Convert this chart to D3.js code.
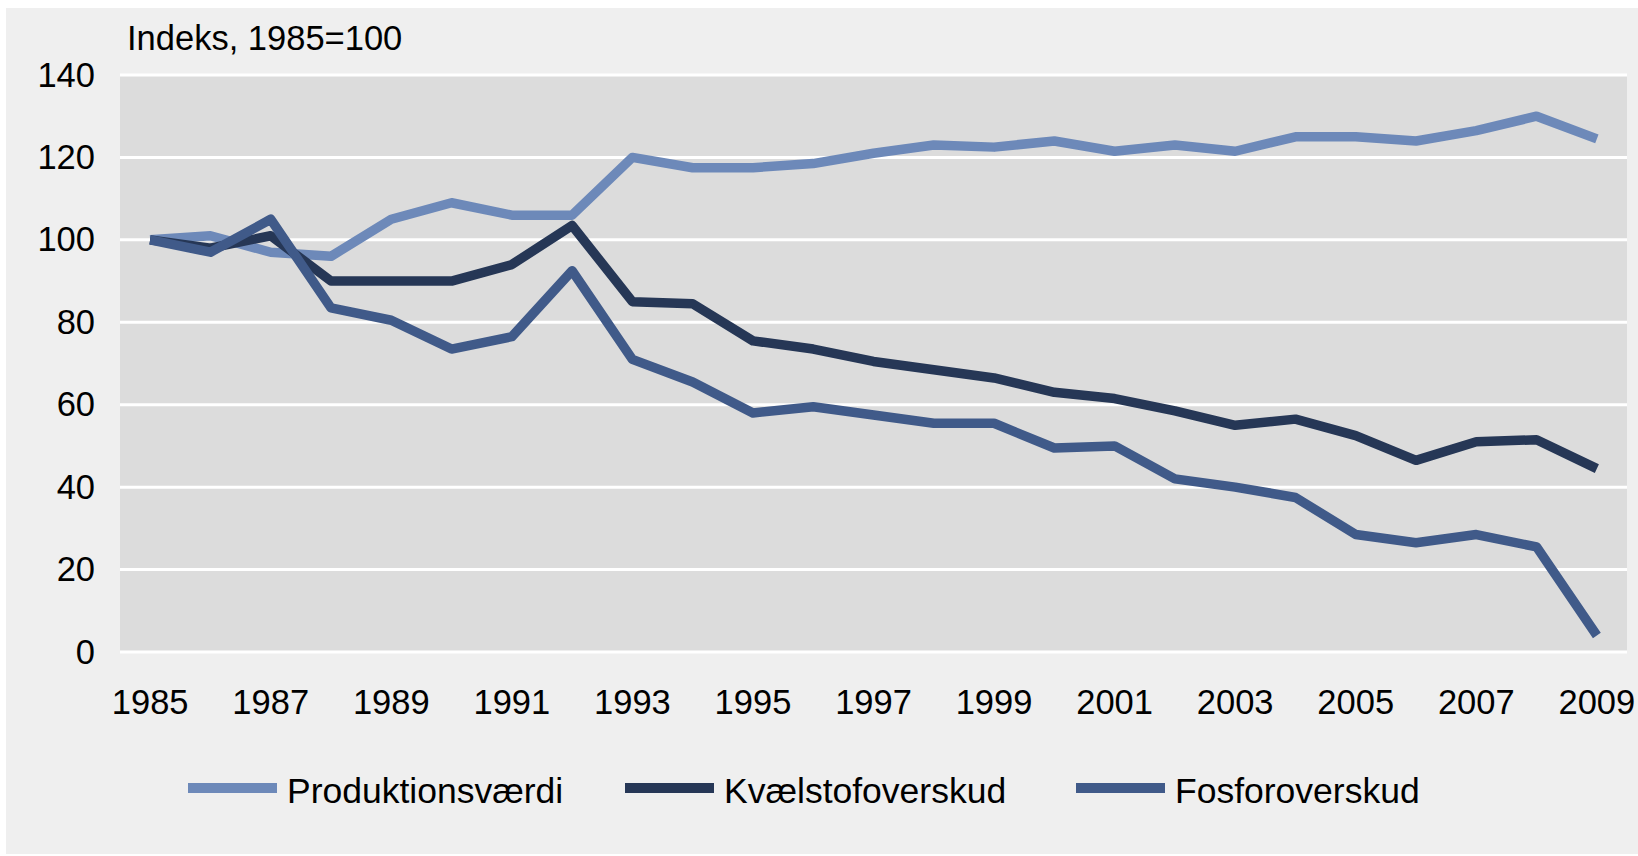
<!DOCTYPE html>
<html>
<head>
<meta charset="utf-8">
<script src="https://cdn.jsdelivr.net/npm/d3@7"></script>
<style>
  body { margin: 0; background: #ffffff; }
  svg { display: block; font-family: "Liberation Sans", Arial, sans-serif; }
</style>
</head>
<body>
<svg id="chart"></svg>
<script>
const years = ['1985','1986','1987','1988','1989','1990','1991','1992','1993','1994','1995','1996',
  '1997','1998','1999','2000','2001','2002','2003','2004','2005','2006','2007','2008','2009'];
const yearLabels = ['1985','1987','1989','1991','1993','1995','1997','1999','2001','2003','2005','2007','2009'];
const yTicks = [0, 20, 40, 60, 80, 100, 120, 140];

const produktion = [100, 101, 97, 96, 105, 109, 106, 106, 120, 117.5, 117.5, 118.5,
  121, 123, 122.5, 124, 121.5, 123, 121.5, 125, 125, 124, 126.5, 130, 124.5];
const kvaelstof = [100, 98, 101, 90, 90, 90, 94, 103.5, 85, 84.5, 75.5, 73.5,
  70.5, 68.5, 66.5, 63, 61.5, 58.5, 55, 56.5, 52.5, 46.5, 51, 51.5, 44.5];
const fosfor = [100, 97, 105, 83.5, 80.5, 73.5, 76.5, 92.5, 71, 65.5, 58, 59.5,
  57.5, 55.5, 55.5, 49.5, 50, 42, 40, 37.5, 28.5, 26.5, 28.5, 25.5, 4];

const seriesNames = ['Produktionsværdi', 'Kvælstofoverskud', 'Fosforoverskud'];
const seriesColors = ['#6d89b9', '#263756', '#405a89'];
const seriesValues = [produktion, kvaelstof, fosfor];

const W = 1638, H = 856;
const plot = { left: 120, right: 1627, top: 75, bottom: 652 };

const svg = d3.select('#chart').attr('width', W).attr('height', H);

// outer panel
svg.append('rect')
  .attr('x', 6).attr('y', 8)
  .attr('width', W - 6).attr('height', H - 10)
  .attr('fill', '#efefef');

const x = d3.scaleBand().domain(years).range([plot.left, plot.right]);
const y = d3.scaleLinear().domain([0, 140]).range([plot.bottom, plot.top]);

// plot area
svg.append('rect')
  .attr('x', plot.left).attr('y', plot.top)
  .attr('width', plot.right - plot.left).attr('height', plot.bottom - plot.top)
  .attr('fill', '#dcdcdc');

// gridlines
svg.append('g')
  .selectAll('line')
  .data(yTicks)
  .enter().append('line')
    .attr('x1', plot.left).attr('x2', plot.right)
    .attr('y1', d => y(d)).attr('y2', d => y(d))
    .attr('stroke', '#ffffff')
    .attr('stroke-width', 3);

// y axis
const yAxis = svg.append('g')
  .attr('transform', 'translate(' + (plot.left - 25) + ',0)')
  .call(d3.axisLeft(y).tickValues(yTicks).tickSize(0).tickPadding(0));
yAxis.select('.domain').remove();
yAxis.selectAll('text')
  .attr('font-size', 34.5)
  .attr('font-family', '"Liberation Sans", Arial, sans-serif')
  .attr('fill', '#000');

// x axis
const xAxis = svg.append('g')
  .attr('transform', 'translate(0,' + plot.bottom + ')')
  .call(d3.axisBottom(x).tickValues(yearLabels).tickSize(0).tickPadding(38));
xAxis.select('.domain').remove();
xAxis.selectAll('text')
  .attr('font-size', 34.5)
  .attr('font-family', '"Liberation Sans", Arial, sans-serif')
  .attr('fill', '#000');

// axis title
svg.append('text')
  .attr('x', 127).attr('y', 50)
  .attr('font-size', 34.5)
  .attr('fill', '#000')
  .text('Indeks, 1985=100');

// lines
const line = d3.line()
  .x((d, i) => x(years[i]) + x.bandwidth() / 2)
  .y(d => y(d));

svg.append('g')
  .selectAll('path')
  .data(seriesValues)
  .enter().append('path')
    .attr('d', d => line(d))
    .attr('fill', 'none')
    .attr('stroke', (d, i) => seriesColors[i])
    .attr('stroke-width', 9.5)
    .attr('stroke-linejoin', 'round');

// legend
const legendX = [188, 625, 1076];
const legend = svg.append('g')
  .selectAll('g')
  .data(seriesNames)
  .enter().append('g')
    .attr('transform', (d, i) => 'translate(' + legendX[i] + ',788)');

legend.append('line')
  .attr('x1', 0).attr('x2', 89)
  .attr('y1', 0).attr('y2', 0)
  .attr('stroke', (d, i) => seriesColors[i])
  .attr('stroke-width', 10);

legend.append('text')
  .attr('x', 99)
  .attr('y', 3)
  .attr('dy', '0.35em')
  .attr('font-size', 35.5)
  .attr('fill', '#000')
  .text(d => d);
</script>
</body>
</html>
